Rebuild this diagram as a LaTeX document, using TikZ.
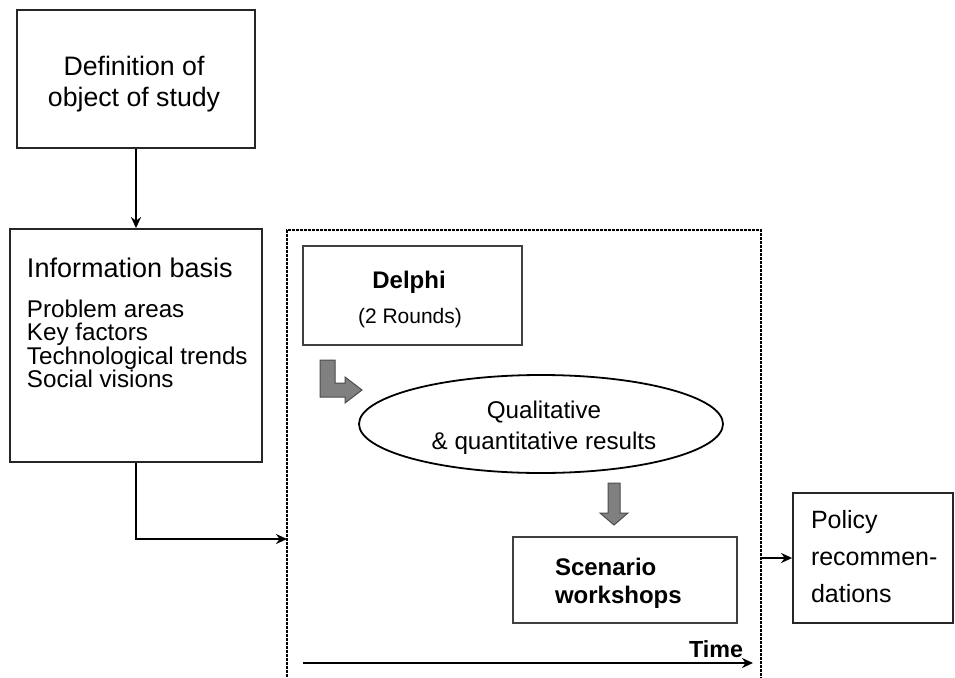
\documentclass[tikz,border=0pt]{standalone}
\usepackage{fontspec}
\setmainfont{Liberation Sans}
\usetikzlibrary{arrows.meta,shapes.geometric}
\tikzset{
  box/.style={draw=black!85, line width=1.8pt, fill=white, inner sep=0pt},
  inbox/.style={draw=black!75, line width=1.8pt, fill=white, inner sep=0pt},
  frame/.style={draw=black, line width=2.6pt, dash pattern=on 2.6pt off 1.4pt, inner sep=0pt},
  conn/.style={line width=2.8pt, -{Stealth[length=11pt,width=10pt]}},
  blockarrow/.style={fill=black!50, draw=black!70, line width=1pt},
  txt/.style={inner sep=0pt, outer sep=0pt}
}
\begin{document}
\begin{tikzpicture}[x=1pt,y=-1pt]
\useasboundingbox (0,0) rectangle (955,677);
\clip (0,0) rectangle (955,677);
\fill[white] (0,0) rectangle (955,677);

% dashed frame (extends past bottom)
\node[frame, minimum width=474, minimum height=460] (frame) at (524,460) {};

% left boxes
\node[box, minimum width=238, minimum height=138] (def) at (136,79) {};
\node[txt, align=center, font=\fontsize{26.7}{31}\selectfont] (deft) at (134,84) {Definition of\\object of study};
\node[box, minimum width=252, minimum height=233] (info) at (136,345.5) {};
\node[txt, anchor=west, font=\fontsize{27}{30}\selectfont] (infotitle) at (27,268) {Information basis};
\node[txt, anchor=north west, align=left, font=\fontsize{24.2}{23.3}\selectfont] (infolist) at (27,300)
  {Problem areas\\Key factors\\Technological trends\\Social visions};

% inner boxes
\node[inbox, minimum width=219, minimum height=99] (delphi) at (412.5,295.5) {};
\node[txt, font=\fontsize{24}{26}\selectfont\bfseries] (delphit) at (409,282) {Delphi};
\node[txt, font=\fontsize{21}{23}\selectfont] (delphir) at (410,318) {(2 Rounds)};

\node[ellipse, draw=black, line width=1.8pt, fill=white, minimum width=364, minimum height=98,
      inner sep=0pt] (res) at (541,424) {};
\node[txt, align=center, font=\fontsize{24.2}{31}\selectfont] (rest) at (544,428)
      {Qualitative\\\& quantitative results};

\node[inbox, minimum width=224, minimum height=86] (scen) at (625,580) {};
\node[txt, anchor=west, align=left, font=\fontsize{24}{28}\selectfont\bfseries] (scent) at (555,583)
  {Scenario\\workshops};

\node[box, minimum width=160, minimum height=130] (pol) at (873,558) {};
\node[txt, anchor=west, align=left, font=\fontsize{25}{37}\selectfont] (polt) at (811,557)
  {Policy\\recommen-\\dations};

% block arrows
\path[blockarrow] (320,360) -- (335,360) -- (335,383) -- (345,383) -- (345,377) -- (362,390)
  -- (345,403) -- (345,397) -- (320,397) -- cycle;
\path[blockarrow] (608,483) -- (620,483) -- (620,513) -- (628,513) -- (614,525) -- (600,513)
  -- (608,513) -- cycle;

% connectors
\draw[conn] (def.south) -- (info.north);
\coordinate (inpt) at (287,539);
\draw[conn] (info.south) |- (inpt);
\draw[conn] (frame.east |- pol.west) -- (pol.west);

% time axis
\coordinate (tstart) at (303,663);
\coordinate (tend) at (753,663);
\draw[line width=2.8pt, -{Stealth[length=11pt,width=10pt]}] (tstart) -- (tend);
\node[txt, anchor=south east, font=\fontsize{23.3}{25}\selectfont\bfseries] (time) at (743,658) {Time};
\end{tikzpicture}
\end{document}
